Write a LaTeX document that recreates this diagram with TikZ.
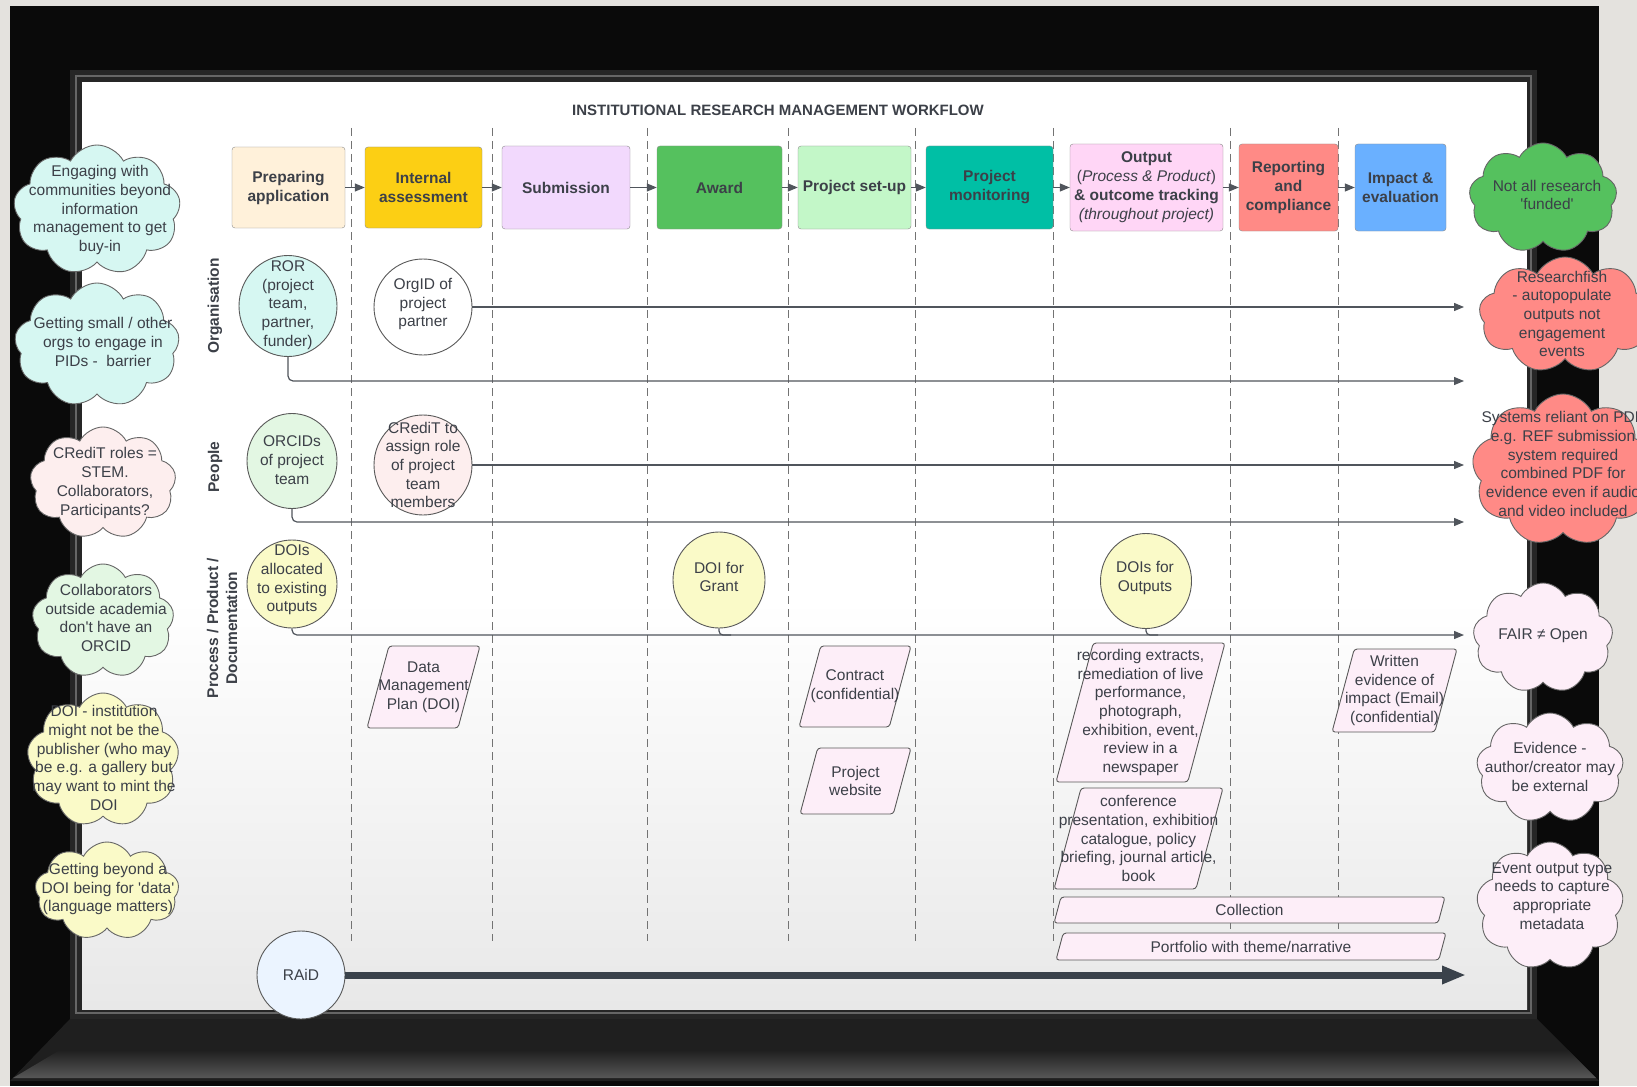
\documentclass[tikz,border=0pt]{standalone}
\usepackage{fontspec}
\setmainfont{Liberation Sans}
\usetikzlibrary{arrows.meta,shapes.geometric,shapes.symbols}

\definecolor{ink}{HTML}{3C4048}
\definecolor{wirecol}{HTML}{50555C}
\definecolor{slate}{HTML}{3A424B}
\definecolor{backdrop}{HTML}{E4E2DE}
\definecolor{framebk}{HTML}{0A0A0A}
\definecolor{cream}{HTML}{FFF1DA}
\definecolor{gold}{HTML}{FCCF14}
\definecolor{lilac}{HTML}{F2D9FD}
\definecolor{leaf}{HTML}{55C15E}
\definecolor{mint}{HTML}{C3F7C8}
\definecolor{lagoon}{HTML}{00BFA5}
\definecolor{rose}{HTML}{FFD6F6}
\definecolor{salmon}{HTML}{FF8A86}
\definecolor{sky}{HTML}{6AB0FF}
\definecolor{aqua}{HTML}{D6F7F2}
\definecolor{sage}{HTML}{E3F7E3}
\definecolor{blush}{HTML}{FDEEEE}
\definecolor{lemon}{HTML}{FAFAC8}
\definecolor{orchid}{HTML}{FDEEF8}
\definecolor{ice}{HTML}{EBF4FF}

\newcommand\sq{\textquotesingle}
\newcommand\slantbox[6]{%
	\draw[docshape] ({#2-#4/2},{#3+#5/2}) -- ({#2+#4/2-0.268*#5},{#3+#5/2}) -- ({#2+#4/2},{#3-#5/2}) -- ({#2-#4/2+0.268*#5},{#3-#5/2}) -- cycle;
	\node[txt] (#1) at (#2,#3) {#6};}

\begin{document}
\begin{tikzpicture}[
	x = 1pt, y = -1pt,
	every node/.style = {text = ink, inner sep = 0pt, font = \fontsize{15.5}{18.7}\selectfont},
	stage/.style = {draw = black!45, rounded corners = 3pt, align = center, font = \fontsize{15.5}{19}\selectfont\bfseries},
	pid/.style = {ellipse, draw = black!65, line width = 0.9pt},
	note/.style = {cloud, cloud puffs = 9, cloud puff arc = 125, cloud ignores aspect, draw = black!60, line width = 0.9pt},
	txt/.style = {align = center},
	lane/.style = {draw = black!55, line width = 0.9pt, dash pattern = on 8pt off 5pt},
	wire/.style = {draw = wirecol, line width = 1.2pt},
	link/.style = {wire, -{Triangle[length = 10pt, width = 8pt]}},
	docshape/.style = {draw = black!65, fill = orchid, line width = 0.9pt, rounded corners = 3pt},
	rowlabel/.style = {rotate = 90, align = center, font = \fontsize{15.5}{19}\selectfont\bfseries},
	]

	\useasboundingbox (0,0) rectangle (1637,1086);
	\fill[backdrop] (0,0) rectangle (1637,1086);
	\fill[framebk] (10,6) rectangle (1599,1086);
	\fill[black!88] (70,1019) -- (1537,1019) -- (1599,1081) -- (10,1081) -- cycle;
	\shade[top color = black!88, bottom color = black!66] (60,1050) -- (1568,1050) -- (1596,1078) -- (13,1078) -- cycle;
	\fill[black!85] (70,70) rectangle (1537,1019);
	\draw[black!60, line width = 1.5pt] (76,76) rectangle (1531,1013);
	\fill[white] (82,82) rectangle (1527,1009);
	\shade[top color = white, bottom color = black!9] (82,600) rectangle (1527,1009);

	\node[font = \fontsize{15}{18}\selectfont\bfseries] (title) at (778,110) {INSTITUTIONAL RESEARCH MANAGEMENT WORKFLOW};

	\foreach \x in {351,492,647,788,915,1053,1230,1338}
		\draw[lane] (\x,128) -- (\x,941);

	\node[stage, fill = cream, minimum width = 113pt, minimum height = 81pt] (prep) at (288.5,187.5) {Preparing\\application};
	\node[stage, fill = gold, minimum width = 117pt, minimum height = 81pt] (intass) at (423.5,187.5) {Internal\\assessment};
	\node[stage, fill = lilac, minimum width = 128pt, minimum height = 83pt] (submit) at (566,187.5) {Submission};
	\node[stage, fill = leaf, minimum width = 125pt, minimum height = 83pt] (award) at (719.5,187.5) {Award};
	\node[stage, fill = mint, minimum width = 113pt, minimum height = 83pt] (setup) at (854.5,187.5) {Project set-up};
	\node[stage, fill = lagoon, minimum width = 127pt, minimum height = 83pt] (monitor) at (989.5,187.5) {Project\\monitoring};
	\node[stage, fill = rose, minimum width = 153pt, minimum height = 87pt] (output) at (1146.5,187.5) {Output\\{\mdseries(\textit{Process \& Product})}\\\& outcome tracking\\{\mdseries\itshape (throughout project)}};
	\node[stage, fill = salmon, minimum width = 99pt, minimum height = 87pt] (report) at (1288.5,187.5) {Reporting\\and\\compliance};
	\node[stage, fill = sky, minimum width = 91pt, minimum height = 87pt] (impact) at (1400.5,187.5) {Impact \&\\evaluation};

	\foreach \a/\b in {prep/intass,intass/submit,submit/award,award/setup,setup/monitor,monitor/output,output/report,report/impact}
		\draw[link] (\a) -- (\b);

	\node[rowlabel] (orgrow) at (215,306) {Organisation};
	\node[rowlabel] (pplrow) at (215,467) {People};
	\node[rowlabel] (docrow) at (222,628) {Process / Product /\\Documentation};

	\coordinate (rend) at (1464,0);
	\coordinate (orgend) at (1464,381);
	\coordinate (pplend) at (1464,522);
	\coordinate (docend) at (1464,635);

	\node[pid, fill = aqua, minimum width = 98pt, minimum height = 101pt] (ror) at (288,306) {};
	\node[pid, fill = white, minimum width = 98pt, minimum height = 96pt] (orgid) at (423,307) {};
	\node[pid, fill = sage, minimum width = 90pt, minimum height = 95pt] (orcid) at (292,461) {};
	\node[pid, fill = blush, minimum width = 98pt, minimum height = 100pt] (credit) at (423,465) {};
	\node[pid, fill = lemon, minimum width = 90pt, minimum height = 88pt] (dois) at (292,584) {};
	\node[pid, fill = lemon, minimum width = 92pt, minimum height = 96pt] (grant) at (719,580) {};
	\node[pid, fill = lemon, minimum width = 91pt, minimum height = 95pt] (outdoi) at (1146,581) {};

	\draw[link] (orgid) -- (orgid -| rend);
	\draw[link, rounded corners = 5pt] (ror.south) |- (orgend);
	\draw[link] (credit) -- (credit -| rend);
	\draw[link, rounded corners = 5pt] (orcid.south) |- (pplend);
	\draw[link, rounded corners = 5pt] (dois.south) |- (docend);
	\draw[wire, rounded corners = 4pt] (grant.south) |- ([xshift = 12pt]grant.south |- docend);
	\draw[wire, rounded corners = 4pt] (outdoi.south) |- ([xshift = 12pt]outdoi.south |- docend);

	\node[txt] (ror-t) at (288,305) {ROR\\(project\\team,\\partner,\\funder)};
	\node[txt] (orgid-t) at (423,304) {OrgID of\\project\\partner};
	\node[txt] (orcid-t) at (292,460) {ORCIDs\\of project\\team};
	\node[txt] (credit-t) at (423,465) {CRediT to\\assign role\\of project\\team\\members};
	\node[txt] (dois-t) at (292,580) {DOIs\\allocated\\to existing\\outputs};
	\node[txt] (grant-t) at (719,577) {DOI for\\Grant};
	\node[txt] (outdoi-t) at (1145,578) {DOIs for\\Outputs};

	\slantbox{dmp}{423.5}{687}{113}{82}{Data\\Management\\Plan (DOI)}
	\slantbox{contract}{855}{686.5}{112}{81}{Contract\\(confidential)}
	\slantbox{website}{855.5}{781}{111}{66}{Project\\website}
	\slantbox{extracts}{1140.5}{712.5}{169}{139}{recording extracts,\\remediation of live\\performance,\\photograph,\\exhibition, event,\\review in a\\newspaper}
	\slantbox{talks}{1138.5}{838.5}{169}{101}{conference\\presentation, exhibition\\catalogue, policy\\briefing, journal article,\\book}
	\slantbox{evidence}{1394.5}{690.5}{125}{83}{Written\\evidence of\\impact (Email)\\(confidential)}
	\slantbox{collection}{1249.5}{910}{391}{26}{Collection}
	\slantbox{portfolio}{1251}{946.5}{390}{27}{Portfolio with theme/narrative}

	\node[note, fill = aqua, minimum width = 167pt, minimum height = 130pt] (engage) at (97,210) {};
	\node[txt] (engage-t) at (100,210) {Engaging with\\communities beyond\\information\\management to get\\buy-in};
	\node[note, fill = aqua, minimum width = 165pt, minimum height = 124pt] (smallorgs) at (97,345) {};
	\node[txt] (smallorgs-t) at (103,342) {Getting small / other\\orgs to engage in\\PIDs -\ \ barrier};
	\node[note, fill = blush, minimum width = 146pt, minimum height = 112pt] (roles) at (103,483) {};
	\node[txt] (roles-t) at (105,483) {CRediT roles =\\STEM.\\Collaborators,\\Participants?};
	\node[note, fill = sage, minimum width = 142pt, minimum height = 114pt] (outside) at (103,621) {};
	\node[txt] (outside-t) at (106,618) {Collaborators\\outside academia\\don\sq t have an\\ORCID};
	\node[note, fill = lemon, minimum width = 152pt, minimum height = 134pt] (publisher) at (103,760) {};
	\node[txt] (publisher-t) at (104,758) {DOI - institution\\might not be the\\publisher (who may\\be e.g. a gallery but\\may want to mint the\\DOI};
	\node[note, fill = lemon, minimum width = 144pt, minimum height = 98pt] (language) at (107,891) {};
	\node[txt] (language-t) at (108,889) {Getting beyond a\\DOI being for \sq data\sq\\(language matters)};

	\node[note, fill = leaf, minimum width = 148pt, minimum height = 110pt] (unfunded) at (1543,198) {};
	\node[txt] (unfunded-t) at (1547,195) {Not all research\\\sq funded\sq};
	\node[note, fill = salmon, minimum width = 172pt, minimum height = 116pt] (fish) at (1565,315) {};
	\node[txt] (fish-t) at (1562,314) {Researchfish\\- autopopulate\\outputs not\\engagement\\events};
	\node[note, fill = salmon, minimum width = 182pt, minimum height = 152pt] (pdf) at (1563,470) {};
	\node[txt] (pdf-t) at (1563,464) {Systems reliant on PDF\\e.g. REF submission\\system required\\combined PDF for\\evidence even if audio\\and video included};
	\node[note, fill = orchid, minimum width = 140pt, minimum height = 110pt] (fair) at (1543,638) {};
	\node[txt] (fair-t) at (1543,636) {FAIR ≠ Open};
	\node[note, fill = orchid, minimum width = 147pt, minimum height = 110pt] (external) at (1550,768) {};
	\node[txt] (external-t) at (1550,767) {Evidence -\\author/creator may\\be external};
	\node[note, fill = orchid, minimum width = 147pt, minimum height = 128pt] (eventtype) at (1550,906) {};
	\node[txt] (eventtype-t) at (1552,896) {Event output type\\needs to capture\\appropriate\\metadata};

	\node[pid, fill = ice, minimum width = 88pt, minimum height = 88pt] (raid) at (301,975) {RAiD};
	\coordinate (raidend) at (1466,975);
	\draw[draw = slate, line width = 7pt, -{Triangle[length = 24pt, width = 17pt]}] (raid) -- (raidend);

\end{tikzpicture}
\end{document}
